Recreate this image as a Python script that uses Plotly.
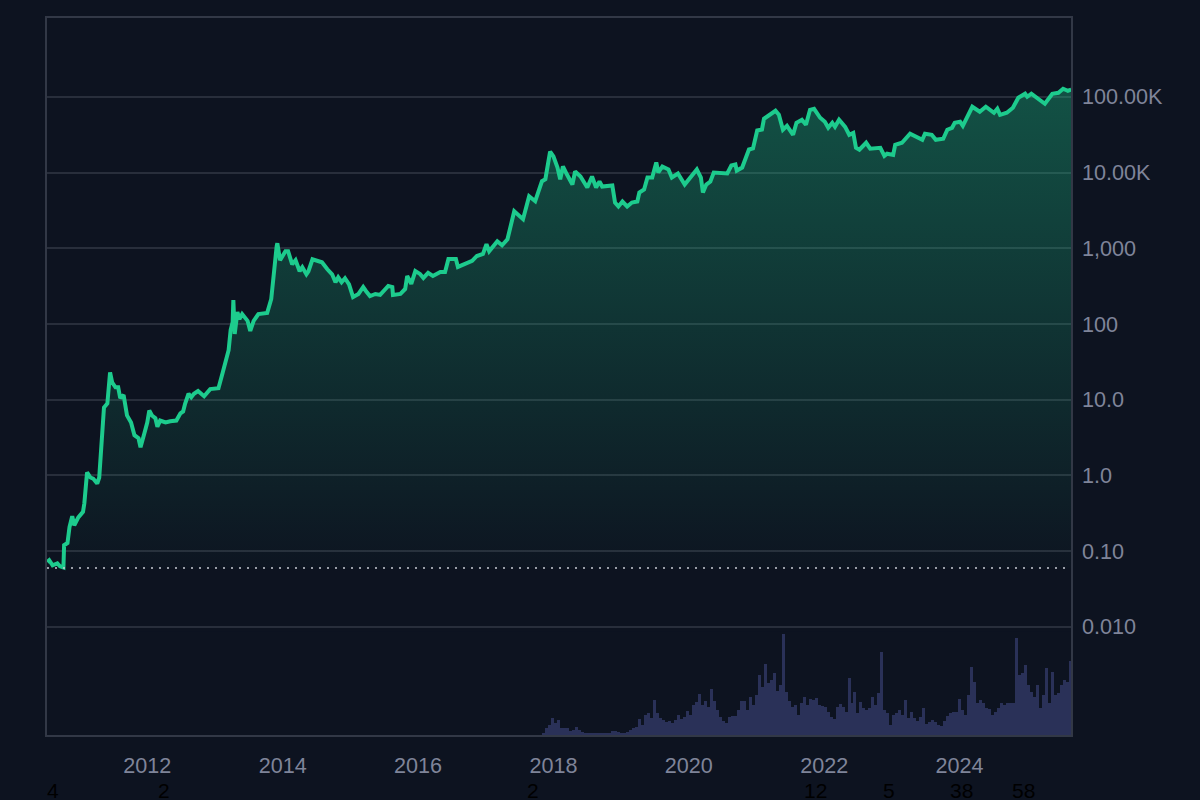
import pandas as pd
import plotly.graph_objects as go

# price, decimal year / usd
years = [2010.52, 2010.55, 2010.60, 2010.67, 2010.71, 2010.76, 2010.77, 2010.82, 2010.85, 2010.89,
         2010.92, 2010.98, 2011.05, 2011.07, 2011.11, 2011.16, 2011.20, 2011.26, 2011.29, 2011.32,
         2011.36, 2011.41, 2011.44, 2011.45, 2011.48, 2011.53, 2011.57, 2011.60, 2011.65, 2011.70,
         2011.76, 2011.81, 2011.87, 2011.90, 2011.96, 2012.00, 2012.03, 2012.07, 2012.12, 2012.15,
         2012.19, 2012.27, 2012.34, 2012.43, 2012.49, 2012.53, 2012.56, 2012.61, 2012.65, 2012.69,
         2012.75, 2012.84, 2012.93, 2013.05, 2013.11, 2013.15, 2013.20, 2013.23, 2013.26, 2013.27,
         2013.29, 2013.33, 2013.36, 2013.40, 2013.48, 2013.52, 2013.57, 2013.64, 2013.71, 2013.77,
         2013.83, 2013.86, 2013.91, 2013.92, 2013.96, 2014.04, 2014.08, 2014.14, 2014.19, 2014.25,
         2014.29, 2014.35, 2014.38, 2014.44, 2014.51, 2014.58, 2014.66, 2014.73, 2014.78, 2014.82,
         2014.87, 2014.92, 2014.98, 2015.04, 2015.12, 2015.19, 2015.23, 2015.29, 2015.37, 2015.44,
         2015.56, 2015.62, 2015.63, 2015.74, 2015.81, 2015.84, 2015.90, 2015.96, 2016.03, 2016.08,
         2016.15, 2016.22, 2016.33, 2016.40, 2016.45, 2016.56, 2016.59, 2016.70, 2016.80, 2016.87,
         2016.96, 2017.01, 2017.05, 2017.17, 2017.24, 2017.32, 2017.42, 2017.55, 2017.64, 2017.73,
         2017.83, 2017.88, 2017.95, 2018.00, 2018.06, 2018.10, 2018.14, 2018.20, 2018.28, 2018.32,
         2018.40, 2018.50, 2018.57, 2018.63, 2018.68, 2018.72, 2018.87, 2018.91, 2018.96, 2019.02,
         2019.09, 2019.16, 2019.24, 2019.27, 2019.34, 2019.39, 2019.46, 2019.52, 2019.55, 2019.61,
         2019.70, 2019.75, 2019.84, 2019.94, 2020.04, 2020.12, 2020.18, 2020.21, 2020.26, 2020.32,
         2020.37, 2020.46, 2020.57, 2020.63, 2020.69, 2020.71, 2020.79, 2020.89, 2020.95, 2021.01,
         2021.08, 2021.11, 2021.19, 2021.28, 2021.33, 2021.39, 2021.45, 2021.50, 2021.54, 2021.59,
         2021.67, 2021.73, 2021.79, 2021.85, 2021.94, 2022.01, 2022.06, 2022.12, 2022.16, 2022.22,
         2022.31, 2022.37, 2022.43, 2022.47, 2022.52, 2022.62, 2022.68, 2022.83, 2022.89, 2022.93,
         2023.02, 2023.05, 2023.15, 2023.27, 2023.37, 2023.45, 2023.49, 2023.59, 2023.65, 2023.76,
         2023.82, 2023.89, 2023.93, 2024.01, 2024.05, 2024.19, 2024.30, 2024.39, 2024.51, 2024.56,
         2024.60, 2024.70, 2024.79, 2024.87, 2024.97, 2025.00, 2025.06, 2025.19, 2025.26, 2025.37,
         2025.46, 2025.53, 2025.60, 2025.65]
prices = [0.072, 0.076, 0.065, 0.069, 0.063, 0.061, 0.12, 0.128, 0.208, 0.29,
          0.22, 0.28, 0.33, 0.43, 1.1, 0.94, 0.91, 0.78, 0.94, 2.9,
          7.9, 8.9, 22.4, 23, 17, 14.6, 14.6, 10.5, 11.5, 6.2,
          5.0, 3.4, 3.1, 2.35, 3.7, 5.0, 7.2, 6.2, 5.7, 4.4,
          5.3, 5.0, 5.2, 5.3, 6.6, 7.0, 8.9, 12, 10.8, 12,
          13, 11.1, 13.8, 14.2, 22.4, 30, 45, 83, 106, 207,
          74, 144, 116, 135, 110, 81, 110, 135, 140, 140,
          214, 430, 1060, 1164, 694, 912, 912, 614, 694, 497,
          561, 453, 497, 715, 673, 653, 528, 453, 356, 414,
          356, 402, 334, 227, 249, 308, 273, 234, 249, 242,
          318, 308, 242, 249, 290, 430, 338, 500, 458, 405,
          472, 430, 486, 486, 723, 723, 566, 621, 680, 790,
          842, 1130, 912, 1237, 1096, 1315, 3080, 2420, 4860, 4180,
          7680, 8160, 18900, 16300, 11640, 8100, 12000, 9400, 6940, 10300,
          8850, 6340, 8850, 6340, 7600, 6530, 6730, 4010, 3560, 4140,
          3560, 4010, 4140, 5440, 5960, 8590, 8590, 13550, 10000, 12000,
          10960, 8590, 9700, 6940, 8850, 10960, 8590, 5440, 6940, 7600,
          10000, 10000, 9700, 12370, 12750, 10600, 11640, 20100, 20750, 35900,
          37000, 51200, 57800, 65300, 57800, 36700, 41400, 34500, 31500, 45300,
          49700, 42700, 67300, 69400, 52800, 46700, 38900, 45300, 40100, 49700,
          40100, 31500, 33400, 21200, 20000, 24700, 20600, 21200, 16600, 17700,
          17100, 23200, 24700, 32500, 29600, 27000, 32500, 31500, 27000, 27900,
          36700, 38900, 45300, 46700, 41400, 73800, 63400, 73800, 61500, 69400,
          57800, 61500, 71500, 97000, 109600, 100000, 109600, 91300, 80800, 109600,
          113000, 127500, 120000, 124000]

# volume bars, evenly spaced from first_volume_date to last_volume_date
first_volume_date = "2017-11-07"
last_volume_date = "2025-08-24"
volumes = [2, 7, 10, 17, 12, 15, 7, 7, 7, 4, 5, 8, 5, 3, 2, 2, 2, 2, 2, 2,
           2, 2, 2, 4, 4, 3, 2, 2, 3, 5, 7, 8, 16, 10, 20, 22, 17, 35, 22, 17,
           15, 13, 14, 12, 15, 20, 16, 18, 24, 20, 30, 33, 41, 30, 34, 28, 46, 34, 25, 18,
           14, 12, 18, 19, 19, 25, 34, 34, 25, 38, 30, 40, 60, 48, 71, 52, 55, 62, 44, 50,
           101, 43, 34, 28, 30, 20, 32, 38,
           30, 36, 35, 37, 30, 29, 28, 23, 18, 16, 28, 31, 28, 23, 57, 32, 43, 22, 33, 27,
           25, 27, 38, 30, 42, 83, 25, 22, 10, 20, 22, 25, 20, 35, 17, 23, 17, 14, 18, 27,
           11, 13, 15, 13, 10, 9, 14, 19, 22, 23, 23, 36, 25, 20, 40, 68, 53, 32, 35, 32,
           27, 26, 20, 23, 27, 32, 30, 32, 32, 32, 97, 60, 62, 70, 50, 43, 38, 50, 27, 40,
           67, 32, 63, 40, 42, 50, 55, 53, 74]
volume_top = 104

baseline_price = 0.06

price_ticks = [100000, 10000, 1000, 100, 10, 1, 0.1, 0.01]
price_labels = ["100.00K", "10.00K", "1,000", "100", "10.0", "1.0", "0.10", "0.010"]

# the small black counts under the axis
event_dates = ["2010-08-10", "2012-04-01", "2017-09-10", "2021-11-15", "2022-12-15", "2024-01-10", "2024-12-10"]
event_counts = ["4", "2", "2", "12", "5", "38", "58"]

BG = "#0d1320"
GRID = "#282e3b"
BORDER = "#323846"
TEXT = "#7f8499"
GREEN = "#1dcb8d"
FONT = "Liberation Sans"


def to_date(y):
    year = int(y)
    return pd.Timestamp(year, 1, 1) + pd.Timedelta(days=(y - year) * 365.25)


dates = [to_date(y) for y in years]
volume_dates = pd.date_range(first_volume_date, last_volume_date, periods=len(volumes))

fig = go.Figure()

fig.add_trace(go.Bar(x=volume_dates, y=volumes, yaxis="y2", marker=dict(color="#2a3158", line_width=0)))

# invisible floor for the area
fig.add_trace(go.Scatter(x=dates, y=[baseline_price] * len(dates), mode="lines", line=dict(width=0)))
fig.add_trace(go.Scatter(
    x=dates, y=prices, mode="lines",
    line=dict(color=GREEN, width=4),
    fill="tonexty",
    fillgradient=dict(
        type="vertical",
        colorscale=[[0, "rgba(29,203,141,0.01)"], [1, "rgba(29,203,141,0.34)"]],
    ),
))

fig.add_hline(y=baseline_price, line=dict(color="#c8ccd4", width=1.5, dash="2px,6px"))

for d, c in zip(event_dates, event_counts):
    fig.add_annotation(x=d, y=0, xref="x", yref="paper", yshift=-55, text=c, showarrow=False,
                       yanchor="middle", font=dict(family=FONT, size=21, color="#000000"))

fig.update_layout(
    width=1200, height=800,
    margin=dict(l=47, r=129, t=18, b=65),
    paper_bgcolor=BG, plot_bgcolor=BG,
    showlegend=False, bargap=0,
    font=dict(family=FONT, size=21.6, color=TEXT),
    xaxis=dict(
        type="date",
        range=["2010-07-09", "2025-08-25"],
        tick0="2012-01-01", dtick="M24", tickformat="%Y",
        showgrid=False, zeroline=False,
        showline=True, linecolor=BORDER, linewidth=1.5, mirror=True,
        ticks="", ticklabelstandoff=10,
        tickfont=dict(family=FONT, size=21.6, color=TEXT),
    ),
    yaxis=dict(
        type="log", side="right",
        range=[-3.427, 6.04],
        tickvals=price_ticks, ticktext=price_labels,
        showgrid=True, gridcolor=GRID, gridwidth=1.5, zeroline=False,
        showline=True, linecolor=BORDER, linewidth=1.5, mirror=True,
        ticks="", ticklabelstandoff=5,
        tickfont=dict(family=FONT, size=21.6, color=TEXT),
    ),
    yaxis2=dict(domain=[0, 0.145], range=[0, volume_top], visible=False, anchor="x"),
)

# page margin would push the chart off the corner
fig.write_html("out.html", config={"displayModeBar": False},
               post_script="document.body.style.margin='0';document.body.style.background='" + BG + "';")
